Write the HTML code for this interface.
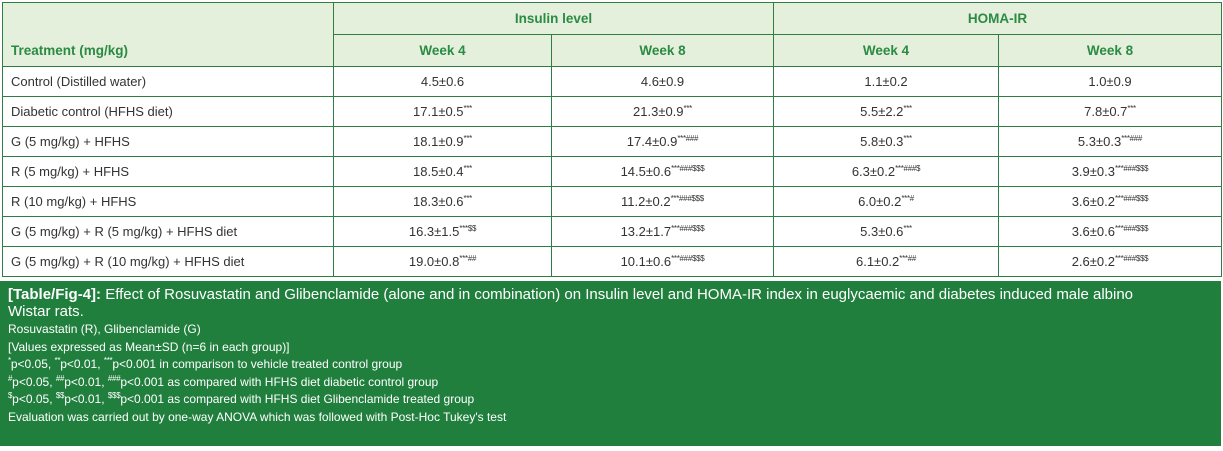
<!DOCTYPE html>
<html><head><meta charset="utf-8"><style>
body{margin:0;width:1223px;height:451px;background:#fff;font-family:"Liberation Sans",sans-serif;position:relative;overflow:hidden}
table{position:absolute;left:2px;top:2px;border-collapse:collapse;table-layout:fixed;width:1219px}
td,th{border:1.5px solid #2f7d45;font-size:13px;color:#333;padding:0;height:29px;text-align:center;font-weight:normal}
th{background:#e4f0dc;color:#2b8a43;font-weight:bold;font-size:13.5px;height:31px}
td.l,th.l{text-align:left;padding-left:8px}
sup{font-size:8px;vertical-align:5px;line-height:0;letter-spacing:-0.3px}
.cap{position:absolute;left:0;top:281px;width:1221px;height:165px;background:#217f3d;color:#fff;box-sizing:border-box;padding:5px 8px}
.cap .t{font-size:15px;line-height:17px;margin-bottom:1px}
.cap .s{font-size:12px;line-height:17.6px}
</style></head><body>
<table>
<colgroup><col style="width:331px"><col style="width:218px"><col style="width:222px"><col style="width:225px"><col style="width:223px"></colgroup>
<tr><th class="l" rowspan="2" style="vertical-align:bottom;padding-bottom:8px">Treatment (mg/kg)</th><th colspan="2">Insulin level</th><th colspan="2">HOMA-IR</th></tr>
<tr><th>Week 4</th><th>Week 8</th><th>Week 4</th><th>Week 8</th></tr>
<tr><td class="l">Control (Distilled water)</td><td>4.5±0.6</td><td>4.6±0.9</td><td>1.1±0.2</td><td>1.0±0.9</td></tr>
<tr><td class="l">Diabetic control (HFHS diet)</td><td>17.1±0.5<sup>***</sup></td><td>21.3±0.9<sup>***</sup></td><td>5.5±2.2<sup>***</sup></td><td>7.8±0.7<sup>***</sup></td></tr>
<tr><td class="l">G (5 mg/kg) + HFHS</td><td>18.1±0.9<sup>***</sup></td><td>17.4±0.9<sup>***###</sup></td><td>5.8±0.3<sup>***</sup></td><td>5.3±0.3<sup>***###</sup></td></tr>
<tr><td class="l">R (5 mg/kg) + HFHS</td><td>18.5±0.4<sup>***</sup></td><td>14.5±0.6<sup>***###$$$</sup></td><td>6.3±0.2<sup>***###$</sup></td><td>3.9±0.3<sup>***###$$$</sup></td></tr>
<tr><td class="l">R (10 mg/kg) + HFHS</td><td>18.3±0.6<sup>***</sup></td><td>11.2±0.2<sup>***###$$$</sup></td><td>6.0±0.2<sup>***#</sup></td><td>3.6±0.2<sup>***###$$$</sup></td></tr>
<tr><td class="l">G (5 mg/kg) + R (5 mg/kg) + HFHS diet</td><td>16.3±1.5<sup>***$$</sup></td><td>13.2±1.7<sup>***###$$$</sup></td><td>5.3±0.6<sup>***</sup></td><td>3.6±0.6<sup>***###$$$</sup></td></tr>
<tr><td class="l">G (5 mg/kg) + R (10 mg/kg) + HFHS diet</td><td>19.0±0.8<sup>***##</sup></td><td>10.1±0.6<sup>***###$$$</sup></td><td>6.1±0.2<sup>***##</sup></td><td>2.6±0.2<sup>***###$$$</sup></td></tr>
</table>
<div class="cap">
<div class="t"><b>[Table/Fig-4]:</b> Effect of Rosuvastatin and Glibenclamide (alone and in combination) on Insulin level and HOMA-IR index in euglycaemic and diabetes induced male albino<br>Wistar rats.</div>
<div class="s">Rosuvastatin (R), Glibenclamide (G)</div>
<div class="s">[Values expressed as Mean±SD (n=6 in each group)]</div>
<div class="s"><sup>*</sup>p&lt;0.05, <sup>**</sup>p&lt;0.01, <sup>***</sup>p&lt;0.001 in comparison to vehicle treated control group</div>
<div class="s"><sup>#</sup>p&lt;0.05, <sup>##</sup>p&lt;0.01, <sup>###</sup>p&lt;0.001 as compared with HFHS diet diabetic control group</div>
<div class="s"><sup>$</sup>p&lt;0.05, <sup>$$</sup>p&lt;0.01, <sup>$$$</sup>p&lt;0.001 as compared with HFHS diet Glibenclamide treated group</div>
<div class="s">Evaluation was carried out by one-way ANOVA which was followed with Post-Hoc Tukey's test</div>
</div>
</body></html>
